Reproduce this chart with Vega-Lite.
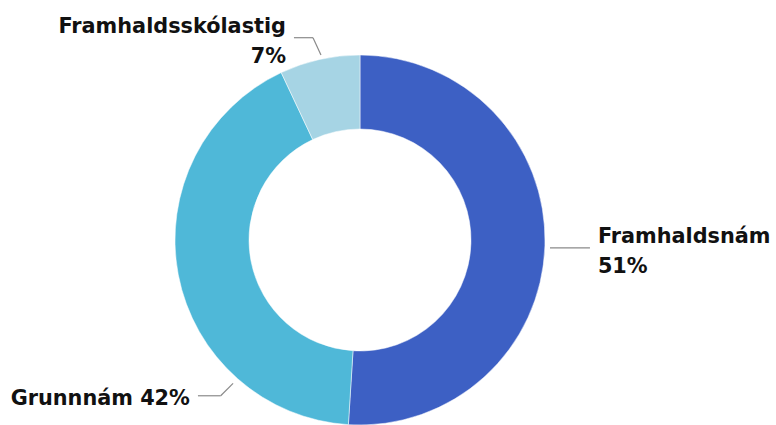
{
  "$schema": "https://vega.github.io/schema/vega-lite/v6.json",
  "width": 720,
  "height": 370,
  "autosize": {"type": "none"},
  "padding": {"left": 0, "top": 55, "right": 56, "bottom": 0},
  "background": "white",
  "config": {"view": {"stroke": null}},
  "data": {
    "values": [
      {"cat": "Framhaldsnám", "pct": 51, "ord": 1, "lbl": "Framhaldsnám|51%"},
      {"cat": "Grunnnám", "pct": 42, "ord": 2, "lbl": "Grunnnám 42%"},
      {"cat": "Framhaldsskólastig", "pct": 7, "ord": 3, "lbl": "Framhaldsskólastig|7%"}
    ]
  },
  "layer": [
    {
      "mark": {"type": "arc", "innerRadius": 111, "outerRadius": 185, "stroke": "#ffffff", "strokeWidth": 0.5},
      "encoding": {
        "theta": {"field": "pct", "type": "quantitative", "stack": true},
        "order": {"field": "ord", "type": "quantitative", "sort": "ascending"},
        "color": {
          "field": "cat",
          "type": "nominal",
          "scale": {"domain": ["Framhaldsnám", "Grunnnám", "Framhaldsskólastig"], "range": ["#3d60c4", "#4fb8d8", "#a6d4e4"]},
          "legend": null
        }
      }
    },
    {
      "mark": {"type": "text", "radius": 238, "align": "left", "baseline": "alphabetic", "dy": -4.5, "font": "DejaVu Sans", "fontWeight": "bold", "fontSize": 20.8, "lineBreak": "|", "lineHeight": 30, "fill": "#111111"},
      "encoding": {
        "theta": {"field": "pct", "type": "quantitative", "stack": true},
        "order": {"field": "ord", "type": "quantitative", "sort": "ascending"},
        "text": {"condition": {"test": "datum.cat === 'Framhaldsnám'", "field": "lbl", "type": "nominal"}, "value": ""}
      }
    },
    {
      "mark": {"type": "text", "radius": 200, "align": "right", "baseline": "alphabetic", "dx": -30.4, "dy": -11.8, "font": "DejaVu Sans", "fontWeight": "bold", "fontSize": 20.8, "lineBreak": "|", "lineHeight": 30, "fill": "#111111"},
      "encoding": {
        "theta": {"field": "pct", "type": "quantitative", "stack": true},
        "order": {"field": "ord", "type": "quantitative", "sort": "ascending"},
        "text": {"condition": {"test": "datum.cat === 'Framhaldsskólastig'", "field": "lbl", "type": "nominal"}, "value": ""}
      }
    },
    {
      "mark": {"type": "text", "radius": 200, "align": "right", "baseline": "alphabetic", "dx": 26.4, "dy": 127.5, "font": "DejaVu Sans", "fontWeight": "bold", "fontSize": 20.8, "lineBreak": "|", "lineHeight": 30, "fill": "#111111"},
      "encoding": {
        "theta": {"field": "pct", "type": "quantitative", "stack": true},
        "order": {"field": "ord", "type": "quantitative", "sort": "ascending"},
        "text": {"condition": {"test": "datum.cat === 'Grunnnám'", "field": "lbl", "type": "nominal"}, "value": ""}
      }
    },
    {
      "data": {"values": [{}]},
      "mark": {"type": "rule", "color": "#8a8a8a", "strokeWidth": 1.2},
      "encoding": {
        "x": {"datum": 1.027, "type": "quantitative", "scale": {"domain": [-1.94595, 1.94595], "nice": false, "zero": false}, "axis": null},
        "x2": {"datum": 1.243},
        "y": {"datum": -0.043, "type": "quantitative", "scale": {"domain": [-1, 1], "nice": false, "zero": false}, "axis": null},
        "y2": {"datum": -0.043}
      }
    },
    {
      "data": {"values": [{}]},
      "mark": {"type": "rule", "color": "#8a8a8a", "strokeWidth": 1.2},
      "encoding": {
        "x": {"datum": -0.357, "type": "quantitative", "scale": {"domain": [-1.94595, 1.94595], "nice": false, "zero": false}, "axis": null},
        "x2": {"datum": -0.254},
        "y": {"datum": 1.0935, "type": "quantitative", "scale": {"domain": [-1, 1], "nice": false, "zero": false}, "axis": null},
        "y2": {"datum": 1.0935}
      }
    },
    {
      "data": {"values": [{}]},
      "mark": {"type": "rule", "color": "#8a8a8a", "strokeWidth": 1.2},
      "encoding": {
        "x": {"datum": -0.254, "type": "quantitative", "scale": {"domain": [-1.94595, 1.94595], "nice": false, "zero": false}, "axis": null},
        "x2": {"datum": -0.211},
        "y": {"datum": 1.0935, "type": "quantitative", "scale": {"domain": [-1, 1], "nice": false, "zero": false}, "axis": null},
        "y2": {"datum": 1.0}
      }
    },
    {
      "data": {"values": [{}]},
      "mark": {"type": "rule", "color": "#8a8a8a", "strokeWidth": 1.2},
      "encoding": {
        "x": {"datum": -0.876, "type": "quantitative", "scale": {"domain": [-1.94595, 1.94595], "nice": false, "zero": false}, "axis": null},
        "x2": {"datum": -0.753},
        "y": {"datum": -0.842, "type": "quantitative", "scale": {"domain": [-1, 1], "nice": false, "zero": false}, "axis": null},
        "y2": {"datum": -0.842}
      }
    },
    {
      "data": {"values": [{}]},
      "mark": {"type": "rule", "color": "#8a8a8a", "strokeWidth": 1.2},
      "encoding": {
        "x": {"datum": -0.753, "type": "quantitative", "scale": {"domain": [-1.94595, 1.94595], "nice": false, "zero": false}, "axis": null},
        "x2": {"datum": -0.686},
        "y": {"datum": -0.842, "type": "quantitative", "scale": {"domain": [-1, 1], "nice": false, "zero": false}, "axis": null},
        "y2": {"datum": -0.775}
      }
    }
  ]
}
